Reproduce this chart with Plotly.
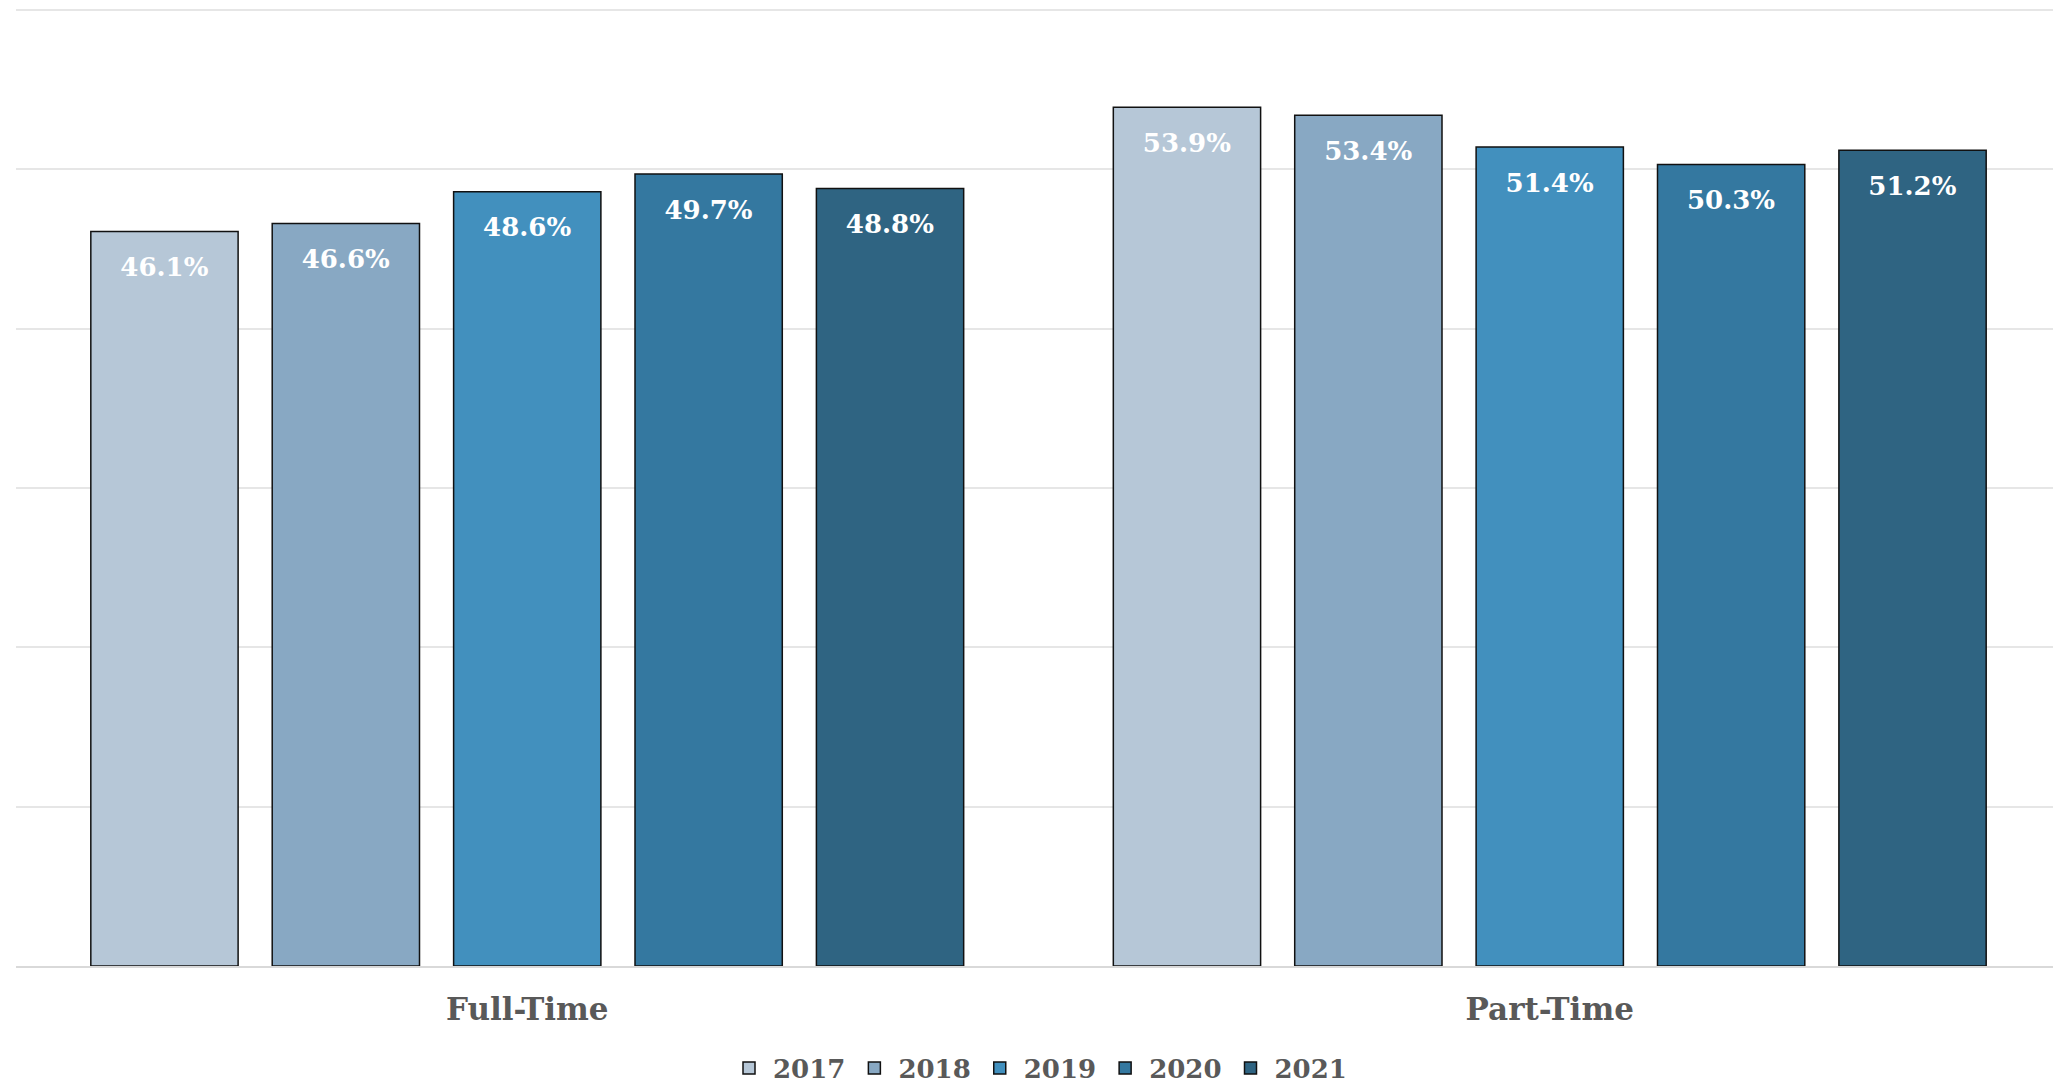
import plotly.graph_objects as go

categories = ["Full-Time", "Part-Time"]
years = ["2017", "2018", "2019", "2020", "2021"]
values = {
    "2017": [0.461, 0.539],
    "2018": [0.466, 0.534],
    "2019": [0.486, 0.514],
    "2020": [0.497, 0.503],
    "2021": [0.488, 0.512],
}
grid_vals = [0.0, 0.1, 0.2, 0.3, 0.4, 0.5, 0.6]
colors = {
    "2017": "#B6C7D7",
    "2018": "#88A8C3",
    "2019": "#4290BE",
    "2020": "#3478A0",
    "2021": "#2F6482",
}

SERIF = "DejaVu Serif"
GRAY = "#595959"

fig = go.Figure()
for y in years:
    fig.add_trace(go.Bar(
        name=y,
        x=categories,
        y=values[y],
        marker=dict(color=colors[y], line=dict(color="#111111", width=1.5)),
        texttemplate='<span style="font-size:9px"> </span><br>%{y:.1%}',
        textposition="inside",
        insidetextanchor="end",
        textangle=0,
        textfont=dict(family=SERIF, size=26, color="white", weight="bold"),
        constraintext="none",
        hoverinfo="skip",
    ))

fig.update_layout(
    width=2053, height=1078,
    margin=dict(l=8, r=0, t=0, b=120, autoexpand=False),
    paper_bgcolor="white", plot_bgcolor="white",
    barmode="group", bargap=0.113, bargroupgap=0.188,
    showlegend=True,
    legend=dict(orientation="h", x=0.5, xanchor="center",
                yref="container", y=0.0167, yanchor="middle",
                font=dict(family=SERIF, size=26, color=GRAY, weight="bold"),
                tracegroupgap=0, itemwidth=38),
    font=dict(family=SERIF),
)
fig.update_xaxes(
    automargin=False,
    showline=True, linecolor="#D9D9D9", linewidth=2,
    showgrid=False, ticks="",
    tickfont=dict(family=SERIF, size=31, color=GRAY, weight="bold"),
    ticklabelstandoff=15,
)
fig.update_yaxes(
    automargin=False,
    range=[0, 0.60126], tickvals=grid_vals, showticklabels=False,
    showgrid=True, gridcolor="#E6E6E6", gridwidth=2,
    zeroline=False, showline=False, ticks="",
)

fig.write_html("out.html")
